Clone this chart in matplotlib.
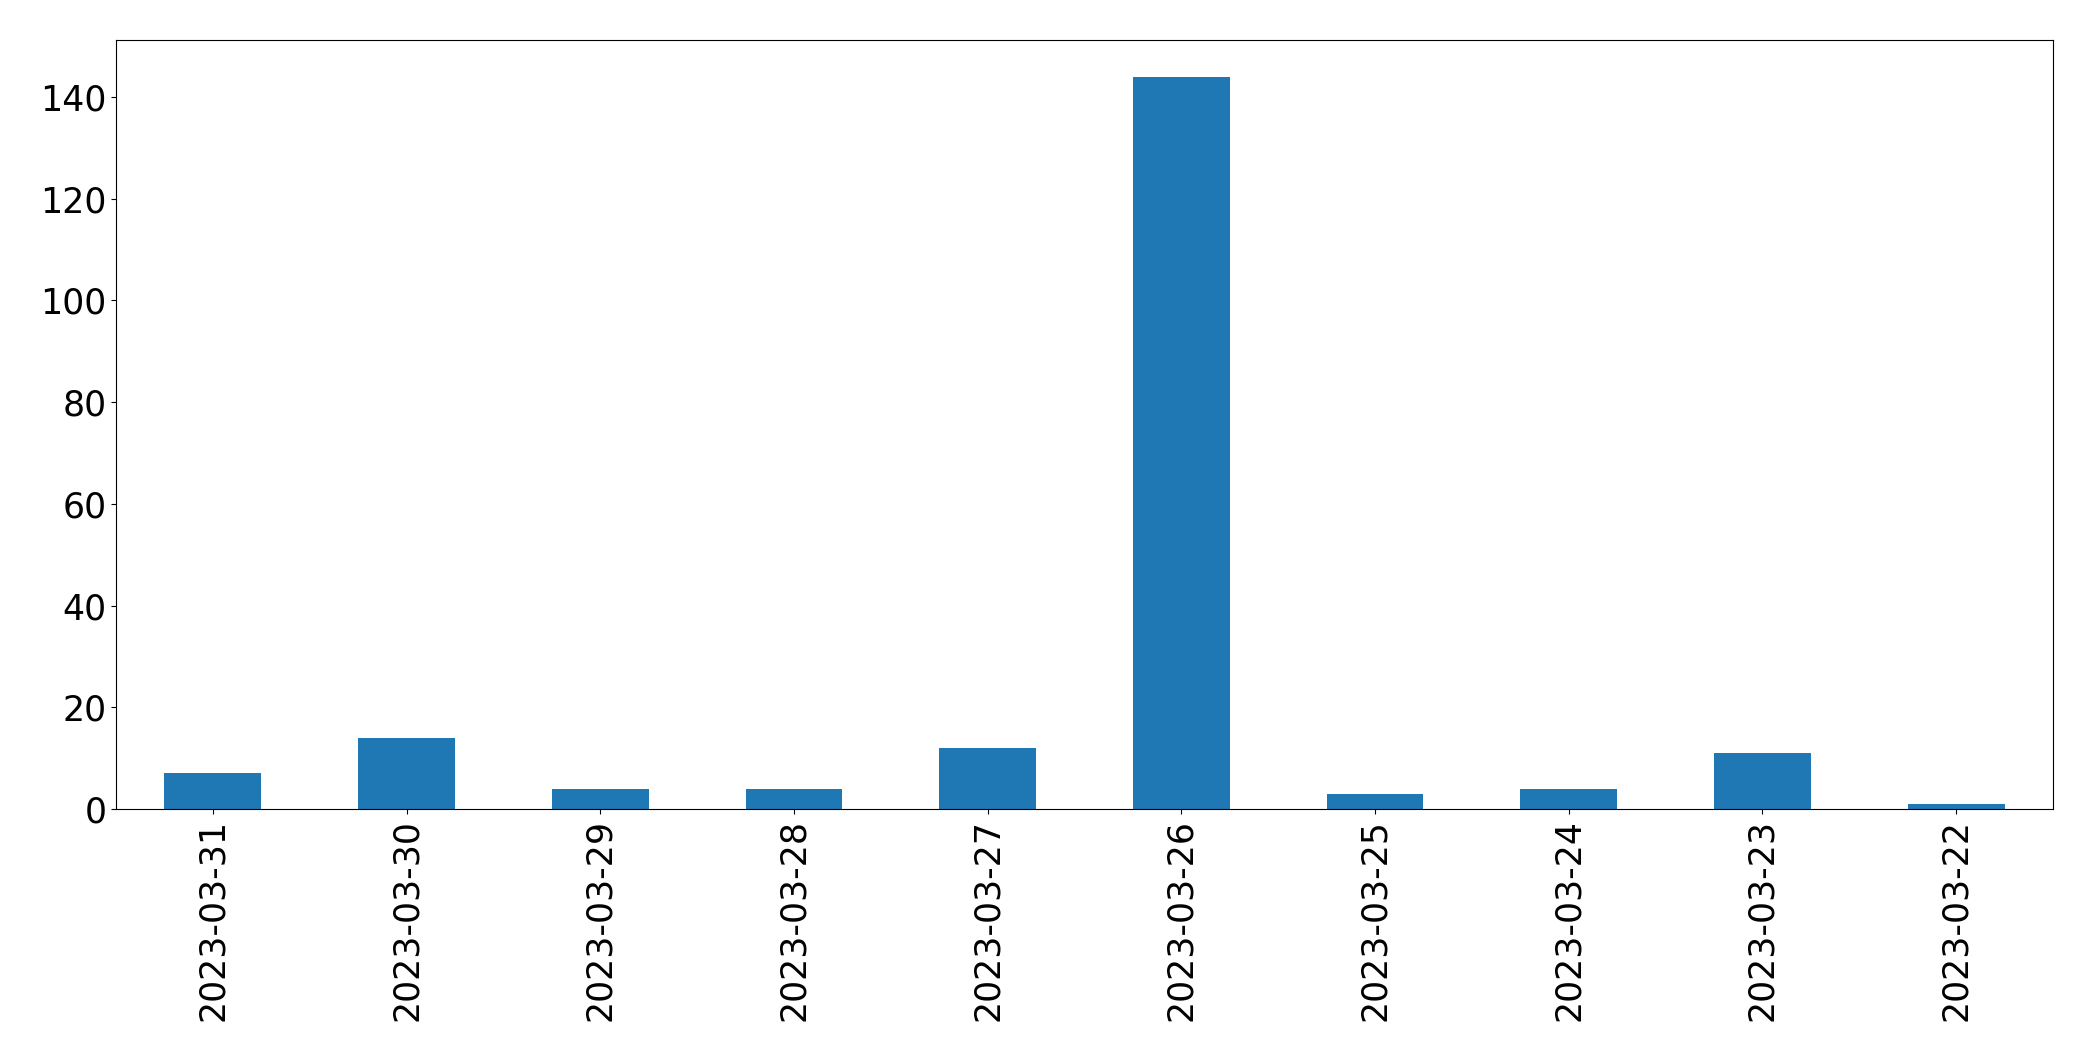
import matplotlib
matplotlib.use("Agg")
from matplotlib import pyplot as plt

# dates (newest first) and counts per day
dates = ["2023-03-31", "2023-03-30", "2023-03-29", "2023-03-28", "2023-03-27",
         "2023-03-26", "2023-03-25", "2023-03-24", "2023-03-23", "2023-03-22"]
counts = [7, 14, 4, 4, 12, 144, 3, 4, 11, 1]

fig = plt.figure(dpi=100, figsize=(20.93, 10.61))
ax = fig.add_axes([116 / 2093, 1 - 809 / 1061, 1937 / 2093, 769 / 1061])
x = list(range(len(dates)))
ax.bar(x, counts, width=0.5, color="#1f77b4")
ax.set_xlim(-0.5, len(dates) - 0.5)
ax.set_xticks(x)
ax.set_xticklabels(dates, rotation=90)
ax.tick_params(axis='both', which='major', labelsize=25)

fig.savefig("out.png")
